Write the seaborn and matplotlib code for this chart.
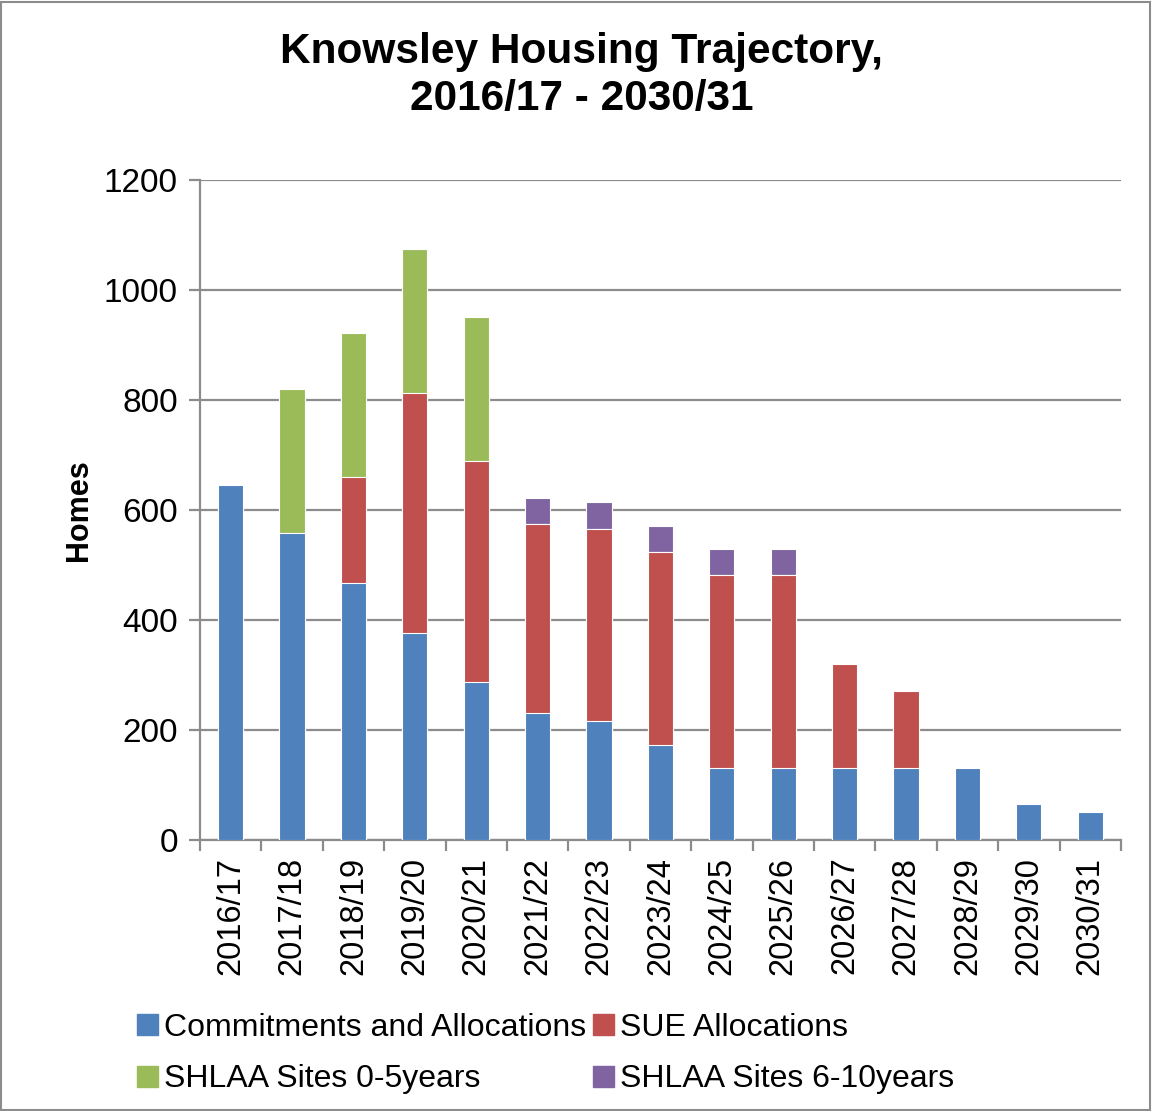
import numpy as np
import pandas as pd
import matplotlib
matplotlib.use("Agg")
import matplotlib.pyplot as plt
import matplotlib.patches as mpatches
import seaborn as sns

years = ["2016/17", "2017/18", "2018/19", "2019/20", "2020/21", "2021/22", "2022/23",
         "2023/24", "2024/25", "2025/26", "2026/27", "2027/28", "2028/29", "2029/30", "2030/31"]
commitments = [645, 558, 467, 376, 287, 231, 216, 173, 131, 131, 131, 131, 131, 65, 51]
sue = [0, 0, 193, 437, 402, 344, 349, 351, 351, 351, 189, 140, 0, 0, 0]
shlaa_0_5 = [0, 262, 262, 262, 262, 0, 0, 0, 0, 0, 0, 0, 0, 0, 0]
shlaa_6_10 = [0, 0, 0, 0, 0, 47, 50, 47, 47, 47, 0, 0, 0, 0, 0]

series = ["Commitments and Allocations", "SUE Allocations", "SHLAA Sites 0-5years", "SHLAA Sites 6-10years"]
colors = ["#4F81BD", "#C0504D", "#9BBB59", "#8064A2"]

df = pd.DataFrame({"year": years, series[0]: commitments, series[1]: sue,
                   series[2]: shlaa_0_5, series[3]: shlaa_6_10})

sns.set_style("white")
plt.rcParams["font.family"] = ["Liberation Sans", "DejaVu Sans"]
plt.rcParams["text.color"] = "black"
plt.rcParams["xtick.color"] = "black"
plt.rcParams["ytick.color"] = "black"
plt.rcParams["axes.labelcolor"] = "black"

fig = plt.figure(figsize=(11.52, 11.11), dpi=100)
ax = fig.add_axes([0.1736, 0.2439, 0.7994, 0.5941])

# stacked bars: draw cumulative totals from the top series down
cum = df[series].cumsum(axis=1)
for name, col in reversed(list(zip(series, colors))):
    sns.barplot(x=df["year"], y=cum[name], color=col, width=0.41, ax=ax,
                edgecolor="white", linewidth=0.8, saturation=1, zorder=3)

ax.set_ylim(0, 1200)
ax.set_xlim(-0.5, len(years) - 0.5)
ax.set_yticks(range(0, 1201, 200))
ax.yaxis.grid(True, color="#8c8c8c", linewidth=1.6, zorder=0)
ax.set_axisbelow(True)
for s in ["top", "right"]:
    ax.spines[s].set_visible(False)
for s in ["left", "bottom"]:
    ax.spines[s].set_color("#8c8c8c")
    ax.spines[s].set_linewidth(1.6)

ax.set_xticks(range(len(years)))
ax.set_xticklabels(years, rotation=90, fontsize=23.5)
ax.set_xticks(np.arange(-0.5, len(years), 1), minor=True)
ax.tick_params(axis="x", which="major", length=0, pad=12)
ax.tick_params(axis="x", which="minor", length=8, width=1.6, color="#8c8c8c", direction="out", bottom=True)
ax.tick_params(axis="y", length=8, width=1.6, color="#8c8c8c", labelsize=24, left=True, pad=8)
ax.set_xlabel("")
ax.set_ylabel("Homes", fontsize=22, fontweight="bold", labelpad=7)

fig.text(0.505, 0.932, "Knowsley Housing Trajectory,\n2016/17 - 2030/31", ha="center", va="center",
         fontsize=30.5, fontweight="bold", linespacing=1.25)

handles = [mpatches.Patch(color=c) for c in colors]
order = [0, 2, 1, 3]
fig.legend([handles[i] for i in order], [series[i] for i in order], ncol=2,
           loc="upper left", bbox_to_anchor=(0.108, 0.1), frameon=False, fontsize=23,
           handlelength=0.65, handleheight=0.65, handletextpad=0.2, columnspacing=0.2,
           labelspacing=0.68, borderaxespad=0)

fig.patches.append(mpatches.Rectangle((0.001, 0.001), 0.997, 0.997, transform=fig.transFigure,
                                      fill=False, edgecolor="#8c8c8c", linewidth=1.5))

fig.savefig("out.png", dpi=100)
